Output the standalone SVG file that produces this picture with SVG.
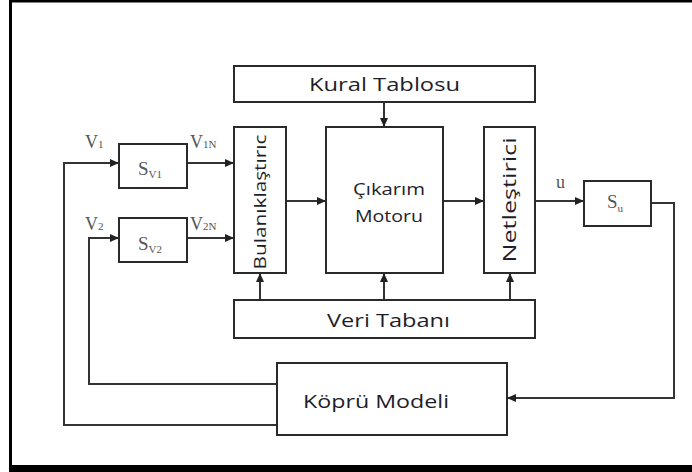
<svg xmlns="http://www.w3.org/2000/svg" width="692" height="472" viewBox="0 0 692 472">
<defs>
<marker id="ah" markerWidth="10" markerHeight="8" refX="9" refY="4" orient="auto" markerUnits="userSpaceOnUse">
<path d="M0,0 L9,4 L0,8 Z" fill="#222"/>
</marker>
<style>
.box{fill:#fff;stroke:#2a2a2a;stroke-width:2}
.ln{fill:none;stroke:#333;stroke-width:2}
.ar{fill:none;stroke:#333;stroke-width:2;marker-end:url(#ah)}
.t{font-family:"Open Sans","DejaVu Sans",sans-serif;fill:#1e1e2a}
.s{font-family:"Liberation Serif","Times New Roman",serif;fill:#555}
</style>
</defs>
<rect x="0" y="0" width="692" height="472" fill="#fff"/>
<g id="frame">
<rect x="9" y="0" width="683" height="2.5" fill="#000"/>
<rect x="9" y="0" width="3" height="472" fill="#000"/>
<rect x="9" y="465" width="683" height="7" fill="#000"/>
</g>
<g id="connectors">
<path class="ar" d="M277,425 H64 V163 H119"/>
<path class="ar" d="M277,384 H89 V238 H119"/>
<path class="ar" d="M187,163 H234"/>
<path class="ar" d="M187,238 H234"/>
<path class="ar" d="M286,201 H326"/>
<path class="ar" d="M443,201 H484"/>
<path class="ar" d="M535,201 H584"/>
<path class="ar" d="M651,203 H674 V398 H507"/>
<path class="ar" d="M384,102 V127"/>
<path class="ar" d="M260,300 V273"/>
<path class="ar" d="M384,300 V273"/>
<path class="ar" d="M510,300 V273"/>
</g>
<g id="kural">
<rect class="box" x="234" y="66" width="301" height="36"/>
<text class="t" x="384.5" y="91" font-size="19" text-anchor="middle" textLength="151" lengthAdjust="spacingAndGlyphs">Kural Tablosu</text>
</g>
<g id="bulanik">
<rect class="box" x="234" y="127" width="52" height="146"/>
<text class="t" transform="translate(266,202) rotate(-90)" font-size="17" text-anchor="middle" textLength="135" lengthAdjust="spacingAndGlyphs">Bulanıklaştırıc</text>
</g>
<g id="cikarim">
<rect class="box" x="326" y="127" width="117" height="146"/>
<text class="t" x="389" y="195" font-size="16" text-anchor="middle" textLength="72" lengthAdjust="spacingAndGlyphs">Çıkarım</text>
<text class="t" x="389" y="222" font-size="16" text-anchor="middle" textLength="68" lengthAdjust="spacingAndGlyphs">Motoru</text>
</g>
<g id="netles">
<rect class="box" x="484" y="127" width="51" height="146"/>
<text class="t" transform="translate(516,200) rotate(-90)" font-size="19" text-anchor="middle" textLength="125" lengthAdjust="spacingAndGlyphs">Netleştirici</text>
</g>
<g id="veri">
<rect class="box" x="234" y="300" width="301" height="38"/>
<text class="t" x="388.5" y="327" font-size="19" text-anchor="middle" textLength="123" lengthAdjust="spacingAndGlyphs">Veri Tabanı</text>
</g>
<g id="kopru">
<rect class="box" x="277" y="363" width="230" height="72"/>
<text class="t" x="376" y="408" font-size="19" text-anchor="middle" textLength="146" lengthAdjust="spacingAndGlyphs">Köprü Modeli</text>
</g>
<g id="sv1">
<rect class="box" x="119" y="144" width="68" height="44"/>
<text class="s" x="138" y="175" font-size="19">S<tspan font-size="11" dy="3">V1</tspan></text>
</g>
<g id="sv2">
<rect class="box" x="119" y="218" width="68" height="44"/>
<text class="s" x="138" y="250" font-size="19">S<tspan font-size="11" dy="3">V2</tspan></text>
</g>
<g id="su">
<rect class="box" x="584" y="181" width="67" height="45"/>
<text class="s" x="607" y="208" font-size="19">S<tspan font-size="11" dy="4">u</tspan></text>
</g>
<g id="labels">
<text class="s" x="85" y="148" font-size="18">V<tspan font-size="11">1</tspan></text>
<text class="s" x="190" y="148" font-size="18">V<tspan font-size="11">1N</tspan></text>
<text class="s" x="85" y="230" font-size="18">V<tspan font-size="11">2</tspan></text>
<text class="s" x="190" y="230" font-size="18">V<tspan font-size="11">2N</tspan></text>
<text class="s" x="556" y="188" font-size="18">u</text>
</g>
</svg>
